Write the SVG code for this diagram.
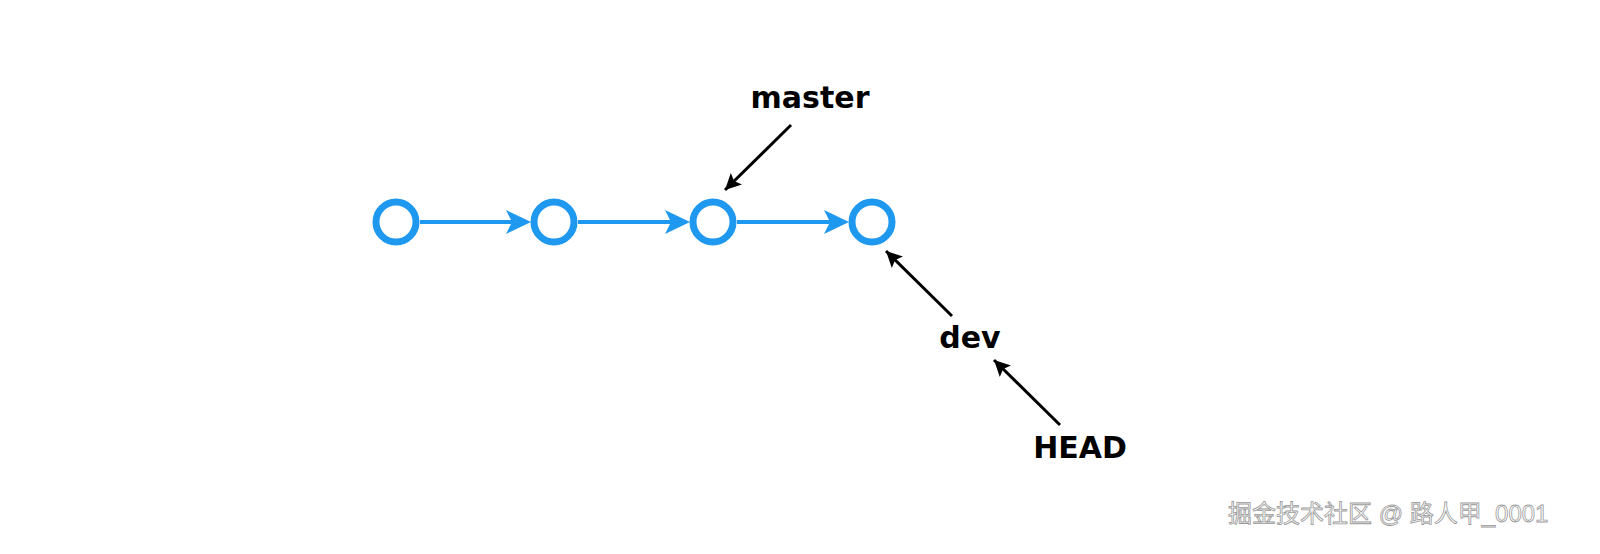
<svg xmlns="http://www.w3.org/2000/svg" width="1600" height="554" viewBox="0 0 1600 554">
<style>
.c{fill:#fff;stroke:#1f98f0;stroke-width:7}
.e{stroke:#1f98f0;stroke-width:4;fill:none}
.p{stroke:#000;stroke-width:3;fill:none}
.t{font-family:"Comic Sans MS","DejaVu Sans",sans-serif;font-weight:bold;font-size:30px;fill:#000;text-anchor:middle}
.w{font-family:"Liberation Sans","Noto Sans CJK SC",sans-serif;font-size:24px;fill:#fff;stroke:#999;stroke-width:0.8}
</style>
<defs>
<marker id="ab" viewBox="0 0 10 10" refX="9" refY="5" markerWidth="5" markerHeight="5" orient="auto" markerUnits="userSpaceOnUse" style="overflow:visible"><path d="M0,0 L10,5 L0,10 L3,5 Z" fill="#1f98f0" transform="scale(2.2) translate(-4.5,-2.7)"/></marker>
<marker id="ak" viewBox="0 0 10 10" refX="10" refY="5" markerWidth="18" markerHeight="16" orient="auto" markerUnits="userSpaceOnUse"><path d="M0,0 L10,5 L0,10 L2,5 Z" fill="#000"/></marker>
</defs>
<g id="connectors">
<line class="e" x1="420" y1="222" x2="520" y2="222"/><path d="M506,210 L531,222 L506,234 L512,222 Z" fill="#1f98f0"/>
<line class="e" x1="578" y1="222" x2="679" y2="222"/><path d="M665,210 L690,222 L665,234 L671,222 Z" fill="#1f98f0"/>
<line class="e" x1="737" y1="222" x2="838" y2="222"/><path d="M824,210 L849,222 L824,234 L830,222 Z" fill="#1f98f0"/>
<line class="p" x1="791" y1="125" x2="725" y2="190" marker-end="url(#ak)"/>
<line class="p" x1="952" y1="316" x2="886" y2="251" marker-end="url(#ak)"/>
<line class="p" x1="1060" y1="425" x2="994" y2="360" marker-end="url(#ak)"/>
</g>
<g id="n1"><circle class="c" cx="396" cy="222" r="20"/></g>
<g id="n2"><circle class="c" cx="554" cy="222" r="20"/></g>
<g id="n3"><circle class="c" cx="713" cy="222" r="20"/></g>
<g id="n4"><circle class="c" cx="872" cy="222" r="20"/></g>
<g id="master"><text class="t" x="810" y="108">master</text></g>
<g id="dev"><text class="t" x="970" y="348">dev</text></g>
<g id="head"><text class="t" x="1080" y="458">HEAD</text></g>
<text class="w" x="1228" y="522">掘金技术社区 @ 路人甲_0001</text>
</svg>
